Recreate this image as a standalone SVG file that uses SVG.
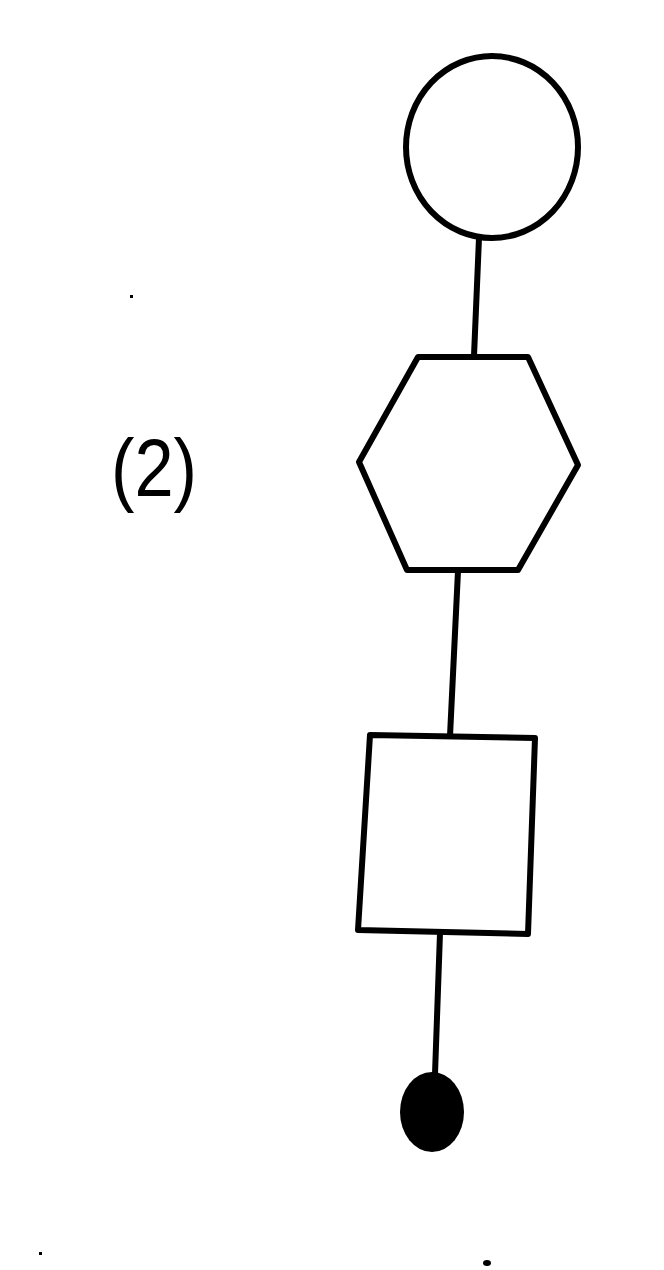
<svg xmlns="http://www.w3.org/2000/svg" width="664" height="1270" viewBox="0 0 664 1270">
<style>
.shape{fill:#fff;stroke:#000;stroke-width:6;stroke-linejoin:round}
.conn{stroke:#000;stroke-width:6;fill:none;stroke-linecap:round}
.label{font-family:"Liberation Sans",Arial,sans-serif;font-size:82px;fill:#000}
.speck{fill:#000}
</style>
<rect width="664" height="1270" fill="#fff"/>
<g id="connectors">
<path class="conn" d="M479 238 L474 356"/>
<path class="conn" d="M458 571 L450 736"/>
<path class="conn" d="M440 933 L435 1074"/>
</g>
<g id="node-circle">
<ellipse class="shape" cx="492" cy="147" rx="86" ry="91"/>
</g>
<g id="node-hexagon">
<polygon class="shape" points="418,357 528,357 578,465 518,570 407,570 359,462"/>
</g>
<g id="node-rect">
<polygon class="shape" points="370,735 535,738 528,934 358,930"/>
</g>
<g id="node-terminal">
<ellipse cx="432" cy="1112" rx="32" ry="40" fill="#000"/>
</g>
<g id="label">
<text class="label" x="111" y="496" textLength="86" lengthAdjust="spacingAndGlyphs">(2)</text>
</g>
<g id="specks">
<ellipse class="speck" cx="487" cy="1263" rx="4" ry="3"/>
<rect class="speck" x="39" y="1252" width="3" height="3"/>
<rect class="speck" x="130" y="295" width="3" height="3"/>
</g>
</svg>
